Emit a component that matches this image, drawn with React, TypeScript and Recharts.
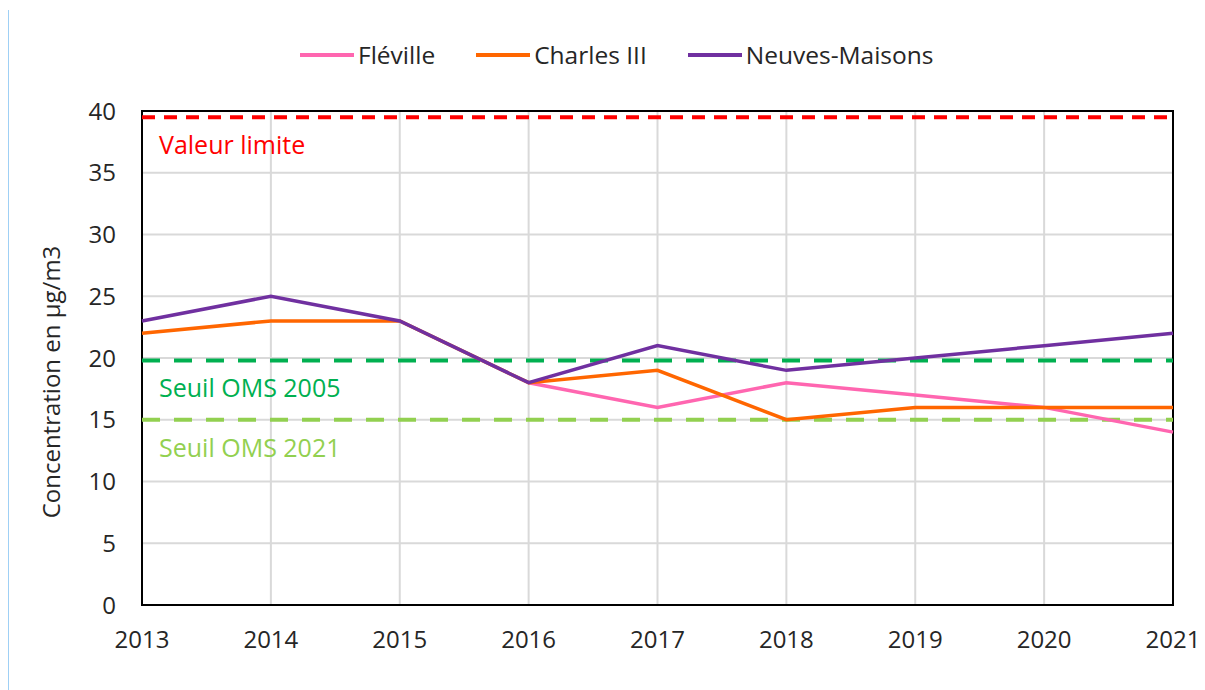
import React from 'react';
import {
  LineChart,
  Line,
  XAxis,
  YAxis,
  CartesianGrid,
  ReferenceLine,
  ReferenceArea,
} from 'recharts';

const years = [2013, 2014, 2015, 2016, 2017, 2018, 2019, 2020, 2021];
const fleville = [null, null, null, 18, 16, 18, 17, 16, 14];
const charlesIII = [22, 23, 23, 18, 19, 15, 16, 16, 16];
const neuvesMaisons = [23, 25, 23, 18, 21, 19, 20, 21, 22];
const yTicks = [0, 5, 10, 15, 20, 25, 30, 35, 40];

const thresholdNames = ['Valeur limite', 'Seuil OMS 2005', 'Seuil OMS 2021'];
const thresholdValues = [39.5, 19.8, 15];

const FONT = '"Open Sans", sans-serif';

const series = [
  { key: 'fleville', name: 'Fléville', color: '#ff66b0', values: fleville },
  { key: 'charles', name: 'Charles III', color: '#ff6600', values: charlesIII },
  { key: 'neuves', name: 'Neuves-Maisons', color: '#7030a0', values: neuvesMaisons },
];

const thresholds = [
  { name: thresholdNames[0], value: thresholdValues[0], color: '#ff0000', dash: '13 9' },
  { name: thresholdNames[1], value: thresholdValues[1], color: '#00b050', dash: '18 14' },
  { name: thresholdNames[2], value: thresholdValues[2], color: '#92d050', dash: '18 14' },
];

const data = years.map((year, i) => {
  const row: Record<string, number | null> = { year };
  series.forEach((s) => {
    row[s.key] = s.values[i];
  });
  return row;
});

const thresholdLabel = (text: string, color: string) => (props: any) => {
  const vb = props.viewBox || {};
  return (
    <text
      x={(vb.x || 0) + 17}
      y={(vb.y || 0) + 27}
      fill={color}
      fontSize={25}
      fontFamily={FONT}
      dominantBaseline="central"
    >
      {text}
    </text>
  );
};

const yLabel = (props: any) => {
  const vb = props.viewBox || {};
  const cx = (vb.x || 0) + 50;
  const cy = (vb.y || 0) + (vb.height || 0) / 2 + 24;
  return (
    <text
      x={cx}
      y={cy}
      transform={`rotate(-90 ${cx} ${cy})`}
      textAnchor="middle"
      dominantBaseline="central"
      fill="#262626"
      fontSize={24}
      fontFamily={FONT}
    >
      Concentration en µg/m3
    </text>
  );
};

function ChartLegend() {
  return (
    <div
      style={{
        position: 'absolute',
        top: 38,
        left: 300,
        display: 'flex',
        alignItems: 'center',
        fontFamily: FONT,
        fontSize: 24.5,
        color: '#262626',
      }}
    >
      {series.map((s) => (
        <div key={s.key} style={{ display: 'flex', alignItems: 'center', marginRight: 41 }}>
          <div style={{ width: 54, height: 4, background: s.color, marginRight: 4 }} />
          <span>{s.name}</span>
        </div>
      ))}
    </div>
  );
}

export default function App() {
  return (
    <div
      style={{
        position: 'absolute',
        left: 0,
        top: 0,
        width: 1205,
        height: 690,
        background: '#fff',
      }}
    >
      <div
        style={{
          position: 'absolute',
          left: 8,
          top: 10,
          width: 1,
          height: 680,
          background: '#9fd0f5',
        }}
      />
      <ChartLegend />
      <LineChart
        width={1205}
        height={690}
        data={data}
        margin={{ top: 111, right: 32, bottom: 0, left: 0 }}
      >
        <CartesianGrid stroke="#d9d9d9" strokeWidth={2} />
        <XAxis
          dataKey="year"
          type="number"
          domain={[2013, 2021]}
          ticks={years}
          height={85}
          axisLine={false}
          tickLine={false}
          tickSize={0}
          tickMargin={26}
          tick={{ fill: '#262626', fontSize: 24, fontFamily: FONT }}
        />
        <YAxis
          domain={[0, 40]}
          ticks={yTicks}
          width={142}
          axisLine={false}
          tickLine={false}
          tickSize={0}
          tickMargin={26}
          tick={{ fill: '#262626', fontSize: 24, fontFamily: FONT }}
          label={yLabel}
        />
        {thresholds.map((t) => (
          <ReferenceLine
            key={t.name}
            y={t.value}
            stroke={t.color}
            strokeWidth={4}
            strokeDasharray={t.dash}
            label={thresholdLabel(t.name, t.color)}
          />
        ))}
        {series.map((s) => (
          <Line
            key={s.key}
            dataKey={s.key}
            name={s.name}
            stroke={s.color}
            strokeWidth={3.5}
            dot={false}
            activeDot={false}
            isAnimationActive={false}
          />
        ))}
        <ReferenceArea
          x1={2013}
          x2={2021}
          y1={0}
          y2={40}
          fill="none"
          stroke="#000"
          strokeWidth={2}
          ifOverflow="visible"
        />
      </LineChart>
    </div>
  );
}
